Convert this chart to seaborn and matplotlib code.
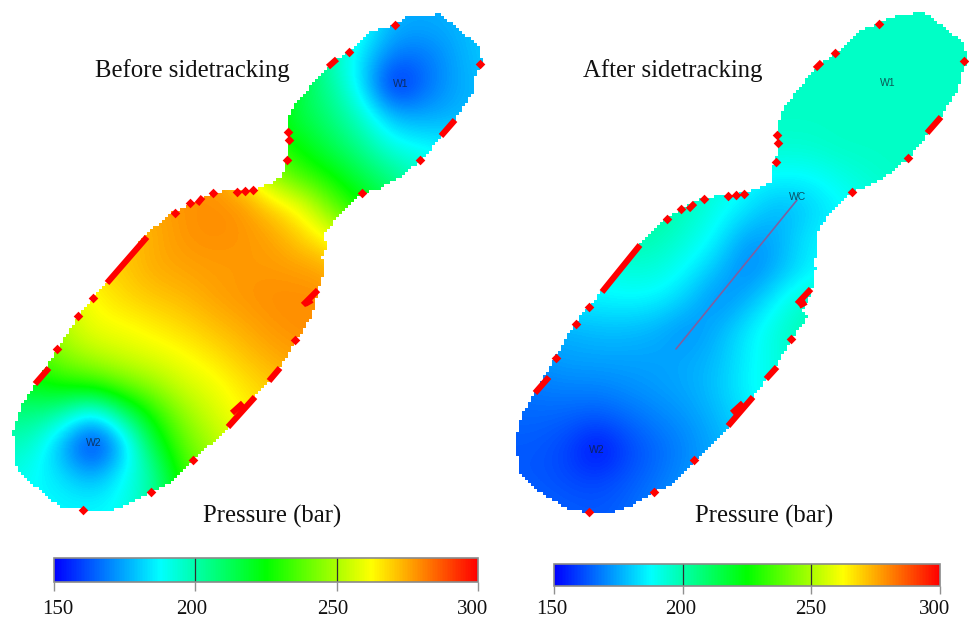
import numpy as np
import pandas as pd
import matplotlib
matplotlib.use("Agg")
import matplotlib.pyplot as plt
from matplotlib.colors import LinearSegmentedColormap
from matplotlib.path import Path
from matplotlib.transforms import ScaledTranslation
import seaborn as sns

# ---- pressure, bar; nodes every 30 px of the image
left_nodes_x = [3, 33, 63, 93, 123, 153, 183, 213, 243, 273, 303, 333, 363, 393, 423, 453, 483]
left_nodes_y = [25, 55, 85, 115, 145, 175, 205, 235, 265, 295, 325, 355, 385, 415, 445, 475, 505]
left_pressure = [
    [280, 280, 280, 280, 280, 280, 280, 280, 260, 235, 220, 205, 190, 176, 175, 176, 180],
    [280, 280, 280, 280, 280, 280, 280, 280, 262, 238, 215, 196, 183, 168, 167, 174, 180],
    [280, 280, 280, 280, 280, 280, 280, 280, 265, 238, 212, 202, 182, 152, 165, 174, 178],
    [280, 280, 280, 280, 280, 280, 280, 280, 262, 224, 214, 206, 194, 176, 174, 176, 178],
    [280, 280, 280, 280, 280, 280, 280, 280, 262, 230, 223, 212, 203, 190, 187, 185, 185],
    [278, 278, 278, 278, 278, 278, 278, 278, 265, 245, 232, 225, 213, 205, 196, 190, 190],
    [275, 275, 275, 275, 275, 275, 278, 279, 278, 268, 260, 238, 225, 212, 200, 195, 195],
    [268, 268, 268, 268, 270, 274, 278, 279, 278, 276, 268, 260, 240, 225, 210, 200, 200],
    [262, 262, 262, 268, 270, 275, 276, 277, 277, 277, 276, 274, 260, 240, 220, 210, 210],
    [255, 255, 255, 263, 268, 271, 273, 276, 278, 279, 279, 278, 270, 250, 230, 220, 220],
    [240, 240, 252, 261, 262, 265, 268, 272, 275, 278, 279, 280, 275, 260, 240, 230, 230],
    [235, 235, 246, 252, 256, 259, 262, 266, 271, 275, 277, 278, 275, 260, 240, 230, 230],
    [215, 222, 228, 231, 240, 247, 256, 260, 266, 270, 274, 276, 275, 260, 240, 230, 230],
    [205, 206, 198, 180, 205, 228, 246, 256, 263, 268, 272, 275, 275, 260, 240, 230, 230],
    [198, 195, 174, 152, 176, 215, 238, 250, 258, 265, 270, 275, 275, 260, 240, 230, 230],
    [192, 188, 183, 174, 188, 200, 232, 245, 255, 262, 270, 275, 275, 260, 240, 230, 230],
    [190, 188, 187, 187, 189, 203, 225, 240, 250, 260, 270, 275, 275, 260, 240, 230, 230],
]

right_nodes_x = [507, 537, 567, 597, 627, 657, 687, 717, 747, 777, 807, 837, 867, 897, 927, 957, 987]
right_nodes_y = [0, 30, 60, 90, 120, 150, 180, 210, 240, 270, 300, 330, 360, 390, 420, 450, 480, 510]
right_pressure = [
    [200, 200, 200, 200, 200, 200, 200, 200, 200, 196, 196, 196, 196, 196, 196, 196, 196],
    [200, 200, 200, 200, 200, 200, 200, 200, 200, 196, 196, 196, 196, 196, 196, 196, 196],
    [200, 200, 200, 200, 200, 200, 200, 200, 198, 196, 196, 196, 196, 196, 196, 196, 196],
    [200, 200, 200, 200, 200, 200, 200, 200, 198, 196, 196, 196, 196, 196, 196, 196, 196],
    [200, 200, 200, 200, 200, 200, 200, 198, 196, 196, 196, 196, 196, 196, 196, 196, 196],
    [200, 200, 200, 200, 200, 200, 198, 196, 194, 194, 194, 196, 196, 196, 196, 196, 196],
    [205, 205, 205, 205, 205, 203, 198, 194, 188, 186, 186, 190, 194, 196, 196, 196, 196],
    [205, 205, 205, 205, 205, 202, 197, 190, 184, 176, 180, 186, 190, 193, 196, 196, 196],
    [200, 200, 200, 200, 200, 198, 193, 186, 172, 175, 185, 188, 190, 193, 196, 196, 196],
    [190, 190, 190, 190, 193, 193, 187, 178, 169, 176, 185, 188, 190, 190, 190, 190, 190],
    [186, 186, 186, 186, 187, 186, 180, 170, 176, 187, 196, 198, 198, 198, 198, 198, 198],
    [176, 176, 176, 178, 178, 176, 171, 176, 185, 193, 200, 200, 200, 200, 200, 200, 200],
    [172, 172, 174, 174, 174, 174, 175, 178, 186, 192, 198, 198, 198, 198, 198, 198, 198],
    [166, 168, 169, 169, 171, 173, 175, 179, 187, 192, 195, 195, 195, 195, 195, 195, 195],
    [165, 165, 164, 162, 165, 169, 172, 177, 183, 190, 192, 192, 192, 192, 192, 192, 192],
    [163, 163, 160, 150, 160, 165, 170, 175, 180, 185, 188, 188, 188, 188, 188, 188, 188],
    [163, 163, 161, 160, 163, 167, 172, 176, 180, 185, 188, 188, 188, 188, 188, 188, 188],
    [165, 165, 164, 163, 165, 170, 173, 176, 180, 185, 188, 188, 188, 188, 188, 188, 188],
]

# ---- reservoir outlines, image pixels
left_outline_x = [440, 478, 483, 473, 473, 457, 443, 422, 400, 377, 360, 343, 338, 323, 327, 322, 325, 322, 318, 315, 312, 297, 280, 267, 253, 230, 193, 167, 150, 127, 113, 93, 72, 60, 25, 15, 15, 13, 17, 23, 35, 57, 78, 93, 107, 127, 143, 173, 200, 213, 253, 273, 283, 287, 288, 288, 295, 333, 350, 370, 395, 407]
left_outline_y = [14, 45, 63, 80, 93, 117, 135, 160, 177, 190, 193, 210, 217, 235, 247, 257, 267, 278, 290, 303, 315, 340, 368, 383, 398, 427, 460, 485, 492, 505, 510, 512, 508, 507, 478, 465, 447, 432, 420, 403, 385, 350, 317, 298, 282, 260, 237, 212, 200, 192, 190, 182, 175, 160, 133, 120, 103, 62, 50, 32, 25, 17]
right_outline_x = [923, 962, 967, 960, 958, 943, 928, 908, 890, 870, 852, 830, 815, 817, 813, 815, 812, 802, 807, 790, 775, 752, 730, 695, 670, 655, 633, 615, 590, 565, 530, 520, 515, 523, 535, 555, 575, 590, 603, 628, 638, 667, 692, 703, 743, 760, 772, 770, 775, 777, 777, 783, 817, 835, 857, 878, 890]
right_outline_y = [12, 42, 60, 77, 88, 112, 133, 158, 173, 185, 192, 212, 233, 247, 263, 267, 288, 310, 317, 340, 367, 397, 425, 460, 485, 492, 505, 512, 513, 508, 485, 472, 440, 413, 392, 358, 323, 305, 290, 260, 245, 218, 203, 198, 193, 187, 182, 170, 162, 135, 123, 107, 65, 53, 32, 23, 17]

# ---- red boundary cells
left_dots_x = [395, 349, 480, 288, 289, 287, 420, 362, 253, 245, 237, 213, 190, 175, 93, 78, 57, 295, 193, 151, 83]
left_dots_y = [25, 52, 64, 132, 140, 160, 160, 193, 190, 191, 192, 193, 203, 213, 298, 316, 349, 340, 460, 492, 510]
left_segments = [(328, 67, 337, 59), (441, 136, 455, 120), (197, 204, 203, 197), (107, 283, 147, 237),
                 (35, 384, 49, 368), (269, 381, 280, 368), (228, 427, 255, 397), (232, 413, 243, 403),
                 (303, 305, 318, 290), (305, 304, 312, 300)]
right_dots_x = [879, 835, 964, 777, 778, 776, 908, 852, 744, 736, 728, 704, 681, 667, 589, 576, 556, 791, 694, 654, 589]
right_dots_y = [24, 53, 61, 135, 143, 162, 158, 192, 194, 195, 196, 199, 209, 219, 307, 324, 358, 339, 460, 492, 512]
right_segments = [(815, 69, 822, 62), (927, 133, 941, 117), (688, 210, 695, 203), (602, 292, 640, 245),
                  (535, 393, 549, 377), (766, 379, 777, 367), (728, 426, 753, 397), (732, 413, 743, 403),
                  (797, 304, 811, 289), (799, 306, 806, 302)]

# ---- texts
titles = ["Before sidetracking", "After sidetracking"]
bar_title = "Pressure (bar)"
bar_ticks = [150, 200, 250, 300]
left_label_shift = [4, -4, -4, -5]
right_label_shift = [-2, -2, -1, -5]
well_x = [401, 94, 888, 597, 798]
well_y = [84, 443, 83, 450, 197]
well_names = ["W1", "W2", "W1", "W2", "WC"]
sidetrack_x = [676, 797]
sidetrack_y = [349, 200]

W, H = 969, 619
sns.set_theme(style="white")
plt.rcParams["font.family"] = ["Liberation Serif", "DejaVu Serif"]
pressure_cmap = LinearSegmentedColormap.from_list(
    "pressure", ["#0000ff", "#00ffff", "#00ff00", "#ffff00", "#ff0000"], N=256)

fig = plt.figure(figsize=(W / 100, H / 100), dpi=100, facecolor="white")


def pix_axes(x0, y0, x1, y1):
    return fig.add_axes([x0 / W, 1 - y1 / H, (x1 - x0) / W, (y1 - y0) / H])


def draw_map(values, nodes_x, nodes_y, bar_box, tick_len, tick_pad, shifts):
    step = 30
    x0, x1 = nodes_x[0] - step / 2, nodes_x[-1] + step / 2
    y0, y1 = nodes_y[0] - step / 2, nodes_y[-1] + step / 2
    ax = pix_axes(x0, y0, x1, y1)
    cax = pix_axes(*bar_box)
    df = pd.DataFrame(values, index=nodes_y, columns=nodes_x)
    sns.heatmap(df, cmap=pressure_cmap, vmin=150, vmax=300, ax=ax, cbar_ax=cax,
                xticklabels=False, yticklabels=False,
                cbar_kws={"orientation": "horizontal", "ticks": bar_ticks})
    ncol, nrow = df.shape[1], df.shape[0]
    ax.imshow(df.to_numpy(dtype=float), cmap=pressure_cmap, vmin=150, vmax=300,
              extent=(0, ncol, nrow, 0), interpolation="bicubic", aspect="auto", zorder=2)
    ax.set_xlim(0, ncol)
    ax.set_ylim(nrow, 0)
    ax.axis("off")
    for v in (200, 250):
        cax.axvline(v, color="#303030", lw=0.9)
    cax.tick_params(axis="x", length=tick_len, width=1.0, color="#909090", pad=tick_pad,
                    labelsize=15, labelcolor="#111111", bottom=True)
    cb = ax.collections[0].colorbar
    cb.outline.set_edgecolor("#8a8a8a")
    cb.outline.set_linewidth(1.2)
    cax.xaxis.set_ticks_position("bottom")
    fig.canvas.draw()
    for lbl, dx in zip(cax.get_xticklabels(), shifts):
        lbl.set_transform(lbl.get_transform() + ScaledTranslation(dx / 100, 0, fig.dpi_scale_trans))
    return (x0, y0, x1, y1)


box_l = draw_map(left_pressure, left_nodes_x, left_nodes_y, (54, 558, 478, 582), 6.5, 6.5, left_label_shift)
box_r = draw_map(right_pressure, right_nodes_x, right_nodes_y, (554, 564, 940, 586), 5.8, 4, right_label_shift)

ov = fig.add_axes([0, 0, 1, 1], facecolor="none")


def white_mask(box, xs, ys, cell=3):
    x0, y0, x1, y1 = box
    gx = np.arange(x0, x1, cell) + cell / 2
    gy = np.arange(y0, y1, cell) + cell / 2
    mx, my = np.meshgrid(gx, gy)
    inside = Path(np.column_stack([xs, ys])).contains_points(
        np.column_stack([mx.ravel(), my.ravel()])).reshape(mx.shape)
    rgba = np.ones(mx.shape + (4,))
    rgba[..., 3] = np.where(inside, 0.0, 1.0)
    ov.imshow(rgba, extent=(x0, x0 + cell * len(gx), y0 + cell * len(gy), y0),
              interpolation="nearest", aspect="auto", zorder=1)


white_mask(box_l, left_outline_x, left_outline_y)
white_mask(box_r, right_outline_x, right_outline_y)

for segs in (left_segments, right_segments):
    for (xa, ya, xb, yb) in segs:
        ov.plot([xa, xb], [ya, yb], color="#ff0000", lw=4.4, solid_capstyle="butt", zorder=3)
sns.scatterplot(x=left_dots_x + right_dots_x, y=left_dots_y + right_dots_y, ax=ov, marker="D",
                color="#ff0000", s=24, linewidth=0, zorder=3, legend=False)
ov.plot(sidetrack_x, sidetrack_y, color="#7f5f9f", lw=1.2, zorder=3)

for x, y, name in zip(well_x, well_y, well_names):
    ov.text(x, y, name, ha="center", va="center", fontsize=7.5, family="Liberation Sans",
            color="#102030", alpha=0.75, zorder=4)

ov.text(192, 71, titles[0], ha="center", va="center", fontsize=17.8, color="#111111")
ov.text(673, 71, titles[1], ha="center", va="center", fontsize=17.8, color="#111111")
ov.text(272, 516, bar_title, ha="center", va="center", fontsize=17.8, color="#111111")
ov.text(764, 516, bar_title, ha="center", va="center", fontsize=17.8, color="#111111")

ov.set_xlim(0, W)
ov.set_ylim(H, 0)
ov.axis("off")

fig.savefig("out.png", dpi=100, facecolor="white")
